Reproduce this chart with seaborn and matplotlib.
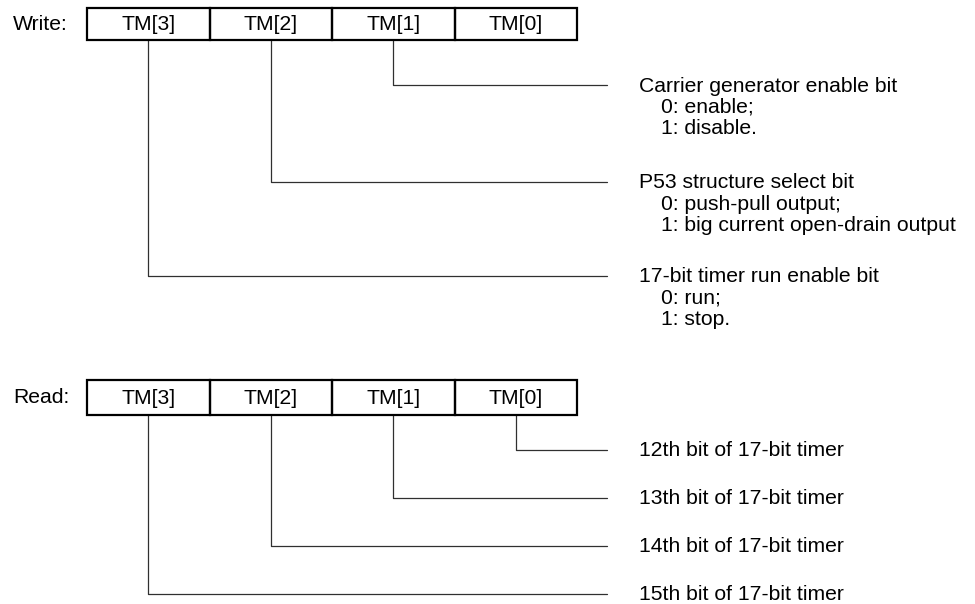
import matplotlib
matplotlib.use("Agg")
import matplotlib.pyplot as plt
import seaborn as sns
from matplotlib.patches import Rectangle

# Register fields (left to right)
bit_names = ['TM[3]', 'TM[2]', 'TM[1]', 'TM[0]']

# Write side: which bit each tap comes from, where it turns, and its description
write_taps = ['TM[1]', 'TM[2]', 'TM[3]']
write_tap_y = [85, 182, 276]
write_titles = ['Carrier generator enable bit',
                'P53 structure select bit',
                '17-bit timer run enable bit']
write_options = [['0: enable;', '1: disable.'],
                 ['0: push-pull output;', '1: big current open-drain output'],
                 ['0: run;', '1: stop.']]

# Read side
read_taps = ['TM[0]', 'TM[1]', 'TM[2]', 'TM[3]']
read_tap_y = [450, 498, 546, 594]
read_titles = ['12th bit of 17-bit timer',
               '13th bit of 17-bit timer',
               '14th bit of 17-bit timer',
               '15th bit of 17-bit timer']

sns.set_theme(style="white")
plt.rcParams['font.family'] = ['Liberation Sans', 'DejaVu Sans']

fig = plt.figure(figsize=(9.75, 6.04), dpi=100)
ax = fig.add_axes([0, 0, 1, 1])
ax.set_xlim(0, 975)
ax.set_ylim(604, 0)
ax.axis('off')

cell_left = 87
cell_w = 122.5
line_end = 607
text_x = 639
indent_x = 661
row_step = 21.2
fs = 15.2


def draw_register(label, top, bottom):
    ax.text(13, (top + bottom) / 2, label, ha='left', va='center', fontsize=fs, color='black')
    for i, name in enumerate(bit_names):
        x0 = cell_left + i * cell_w
        ax.add_patch(Rectangle((x0, top), cell_w, bottom - top, fill=False,
                               edgecolor='black', linewidth=1.6, zorder=3))
        ax.text(x0 + cell_w / 2, (top + bottom) / 2 + 1, name, ha='center', va='center',
                fontsize=fs, color='black')


def bit_center(name):
    return cell_left + bit_names.index(name) * cell_w + cell_w / 2


# Write register
w_top, w_bot = 8, 40
draw_register('Write:', w_top, w_bot)
for name, y, title, opts in zip(write_taps, write_tap_y, write_titles, write_options):
    xc = bit_center(name)
    ax.plot([xc, xc, line_end], [w_bot, y, y], color='#303030', linewidth=0.9, zorder=2)
    ax.text(text_x, y + 1, title, ha='left', va='center', fontsize=fs, color='black')
    for k, opt in enumerate(opts):
        ax.text(indent_x, y + 1 + (k + 1) * row_step, opt, ha='left', va='center',
                fontsize=fs, color='black')

# Read register
r_top, r_bot = 380, 415
draw_register('Read:', r_top, r_bot)
for name, y, title in zip(read_taps, read_tap_y, read_titles):
    xc = bit_center(name)
    ax.plot([xc, xc, line_end], [r_bot, y, y], color='#303030', linewidth=0.9, zorder=2)
    ax.text(text_x, y + 1, title, ha='left', va='center', fontsize=fs, color='black')

fig.savefig('out.png', dpi=100, facecolor='white')
